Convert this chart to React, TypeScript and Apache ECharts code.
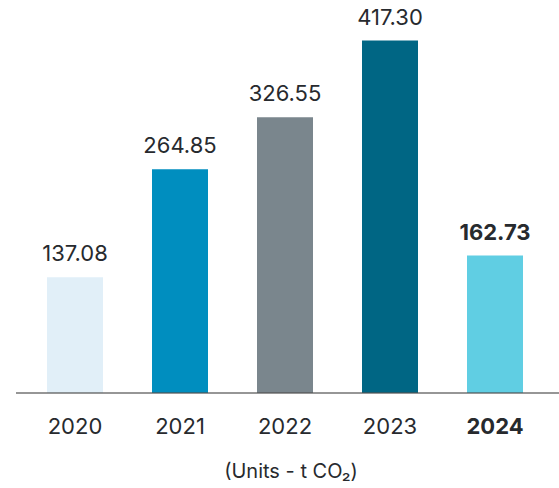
import React, { useEffect, useRef } from "react";
import * as echarts from "echarts";

const categories = ["2020", "2021", "2022", "2023", "2024"];
const values = [137.08, 264.85, 326.55, 417.3, 162.73];
const barColors = ["#E1EFF8", "#008EBF", "#7A868D", "#006684", "#60CEE3"];
const highlightIndex = 4;
const unitsLabel = "(Units - t CO₂)";

const FONT = "Inter, 'Noto Sans', sans-serif";
const TEXT_COLOR = "#272A2E";

export default function App() {
  const ref = useRef<HTMLDivElement>(null);

  useEffect(() => {
    if (!ref.current) return;
    const chart = echarts.init(ref.current, undefined, { renderer: "svg" });
    chart.setOption({
      animation: false,
      backgroundColor: "#ffffff",
      grid: { left: 22.5, right: 11.5, top: 13, bottom: 95, containLabel: false },
      xAxis: {
        type: "category",
        data: categories.map((c, i) => ({
          value: c,
          textStyle: { fontWeight: i === highlightIndex ? "bold" : "normal" },
        })),
        axisLine: { show: false },
        axisTick: { show: false },
        axisLabel: {
          fontFamily: FONT,
          fontSize: 22,
          color: TEXT_COLOR,
          margin: 22,
        },
      },
      yAxis: {
        type: "value",
        min: 0,
        max: 450,
        show: false,
        splitLine: { show: false },
      },
      series: [
        {
          type: "bar",
          barWidth: 56,
          data: values.map((v, i) => ({
            value: v,
            itemStyle: { color: barColors[i] },
            label: {
              fontWeight: i === highlightIndex ? "bold" : "normal",
            },
          })),
          label: {
            show: true,
            position: "top",
            distance: 13,
            fontFamily: FONT,
            fontSize: 22,
            color: TEXT_COLOR,
            formatter: (p: any) => Number(p.value).toFixed(2),
          },
        },
      ],
      graphic: [
        {
          type: "line",
          z: 100,
          shape: { x1: 16, y1: 393, x2: 559, y2: 393 },
          style: { stroke: "rgba(80,80,80,0.6)", lineWidth: 2 },
        },
        {
          type: "text",
          x: 291,
          y: 471,
          style: {
            text: unitsLabel,
            fontFamily: FONT,
            fontSize: 20,
            fill: TEXT_COLOR,
            textAlign: "center",
            textVerticalAlign: "middle",
          },
        },
      ],
    });
    return () => chart.dispose();
  }, []);

  return (
    <div
      ref={ref}
      style={{ position: "fixed", left: 0, top: 0, width: 559, height: 488 }}
    />
  );
}
